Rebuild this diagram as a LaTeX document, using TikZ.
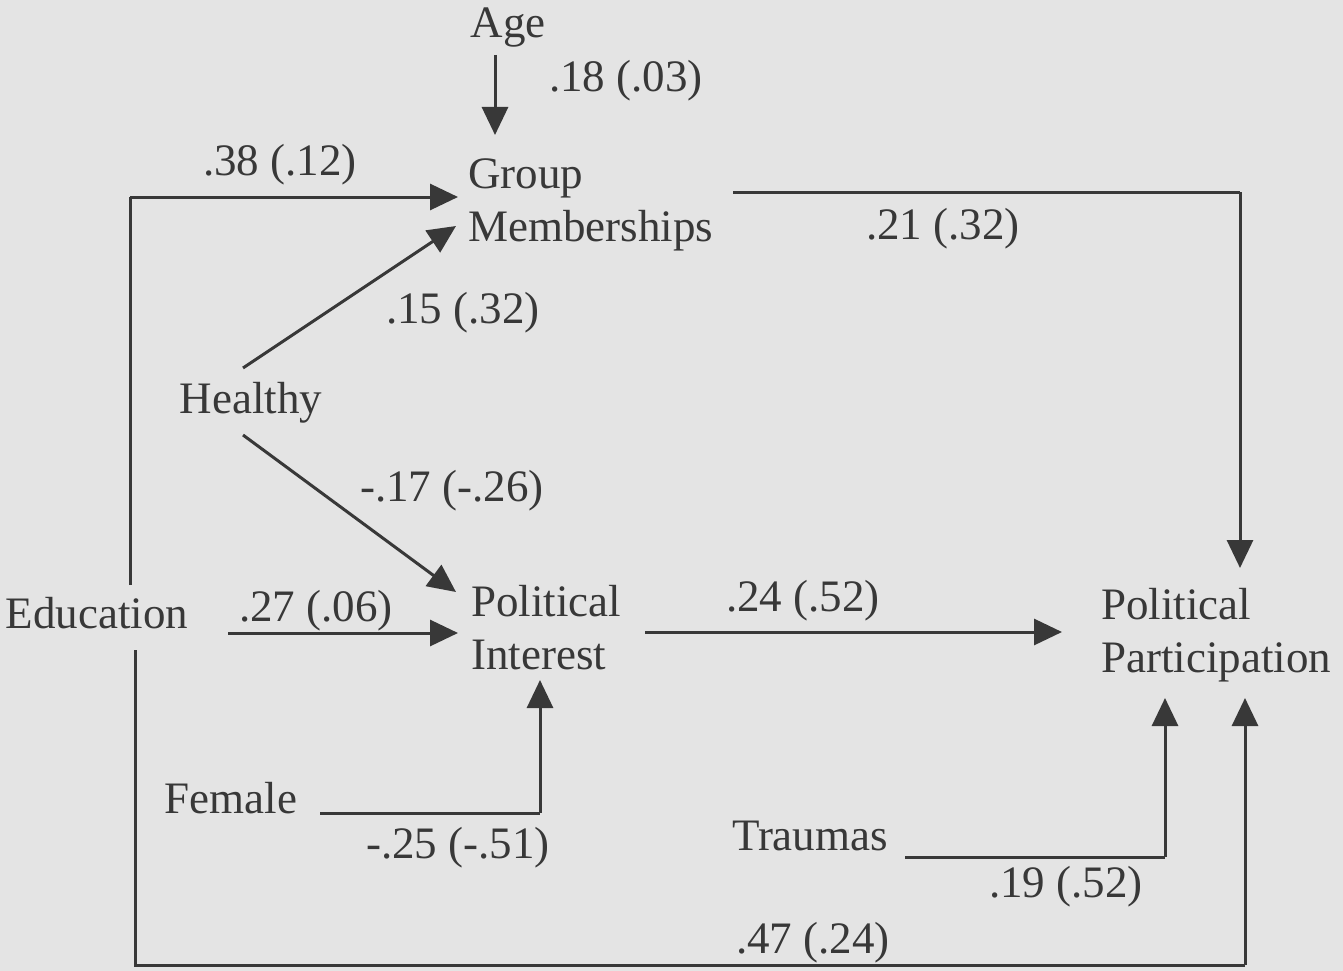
\documentclass[tikz,border=0pt]{standalone}
\usepackage{fontspec}
\setmainfont{Liberation Serif}
\usetikzlibrary{arrows.meta}
\definecolor{bg}{HTML}{E4E4E4}
\definecolor{ink}{HTML}{383838}
\tikzset{
  lbl/.style={inner sep=0pt, text=ink, yshift=-3pt, font=\fontsize{45}{53}\selectfont},
  varl/.style={lbl, align=left, anchor=west},
  conn/.style={draw=ink, line width=3pt, -{Triangle[length=28pt,width=26pt]}},
  plain/.style={draw=ink, line width=3pt}
}
\begin{document}
\begin{tikzpicture}[x=1pt,y=-1pt]
\fill[bg] (0,0) rectangle (1343,971);
\useasboundingbox (0,0) rectangle (1343,971);
% variables
\node[lbl] (age) at (508,25) {Age};
\node[varl] (group) at (468,202) {Group\\Memberships};
\node[lbl] (healthy) at (251,400) {Healthy};
\node[lbl] (edu) at (97,610) {Education};
\node[varl] (polint) at (471,625) {Political\\Interest};
\node[varl] (polpart) at (1101,632) {Political\\Participation};
\node[lbl] (female) at (231,795) {Female};
\node[lbl] (traumas) at (810,833) {Traumas};
% coefficients
\node[lbl] (c1) at (626,78) {.18 (.03)};
\node[lbl] (c2) at (280,162) {.38 (.12)};
\node[lbl] (c3) at (943,226) {.21 (.32)};
\node[lbl] (c4) at (463,310) {.15 (.32)};
\node[lbl] (c5) at (452,488) {-.17 (-.26)};
\node[lbl] (c6) at (316,608) {.27 (.06)};
\node[lbl] (c7) at (803,598) {.24 (.52)};
\node[lbl] (c8) at (458,845) {-.25 (-.51)};
\node[lbl] (c9) at (1066,884) {.19 (.52)};
\node[lbl] (c10) at (813,940) {.47 (.24)};
% coordinates
\coordinate (ageS) at (495,55);
\coordinate (ageE) at (495,135);
\coordinate (eduN) at (130,585);
\coordinate (eduNc) at (130,197);
\coordinate (grpW1) at (458,197);
\coordinate (hN) at (243,368);
\coordinate (grpW2) at (456,226);
\coordinate (hS) at (243,435);
\coordinate (piW1) at (456,592);
\coordinate (eduE) at (228,633);
\coordinate (piW2) at (458,633);
\coordinate (grpE) at (733,192);
\coordinate (grpEc) at (1240,192);
\coordinate (ppN) at (1240,568);
\coordinate (piE) at (645,632);
\coordinate (ppW) at (1062,632);
\coordinate (femE) at (320,813);
\coordinate (femc) at (540,813);
\coordinate (piS) at (540,680);
\coordinate (trE) at (905,857);
\coordinate (trc) at (1165,857);
\coordinate (ppS1) at (1165,698);
\coordinate (eduS) at (135,650);
\coordinate (eduSc) at (135,965);
\coordinate (ppSc) at (1245,965);
\coordinate (ppS2) at (1245,698);
% connectors
\draw[conn] (ageS) -- (ageE);
\draw[plain] (eduN) -- (eduNc);
\draw[conn] (eduNc) -- (grpW1);
\draw[conn] (hN) -- (grpW2);
\draw[conn] (hS) -- (piW1);
\draw[conn] (eduE) -- (piW2);
\draw[plain] (grpE) -- (grpEc);
\draw[conn] (grpEc) -- (ppN);
\draw[conn] (piE) -- (ppW);
\draw[plain] (femE) -- (femc);
\draw[conn] (femc) -- (piS);
\draw[plain] (trE) -- (trc);
\draw[conn] (trc) -- (ppS1);
\draw[plain] (eduS) -- (eduSc) -- (ppSc);
\draw[conn] (ppSc) -- (ppS2);
\end{tikzpicture}
\end{document}
